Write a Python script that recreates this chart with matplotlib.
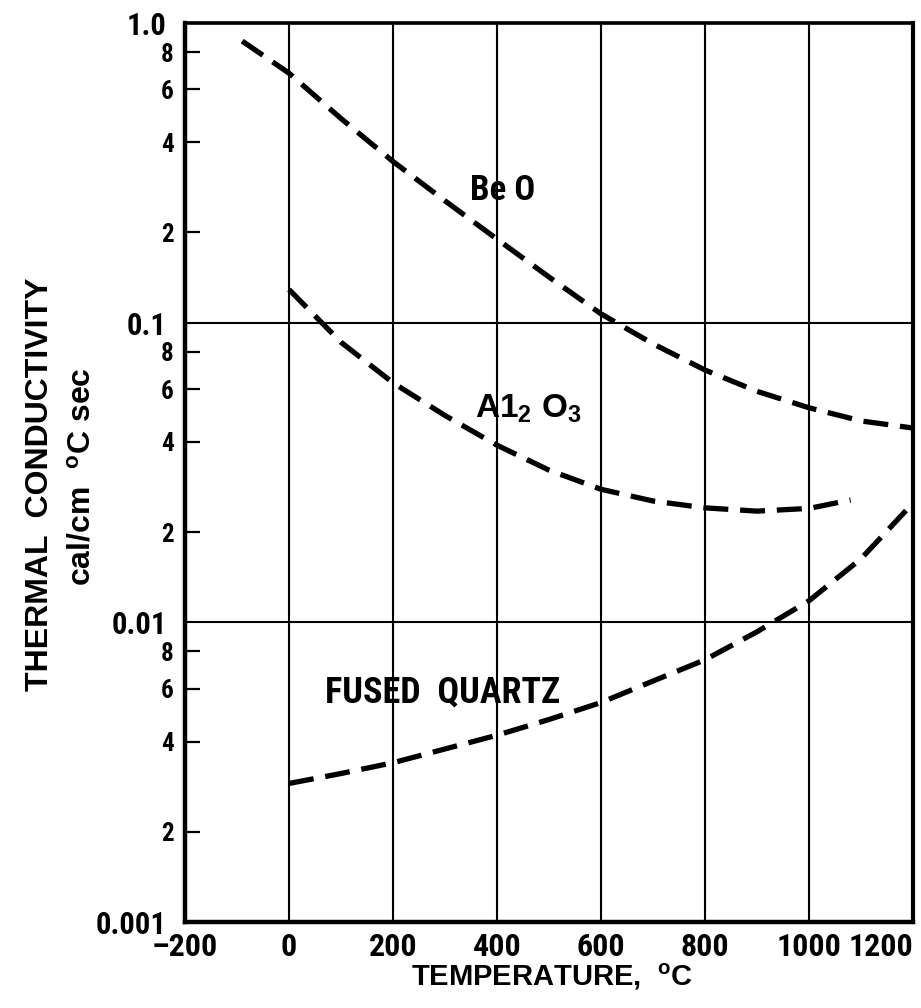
"""
Thermal conductivity of BeO, Al2O3 and fused quartz versus temperature.
"""
import logging

import matplotlib
matplotlib.use("Agg")
import matplotlib.pyplot as plt
from matplotlib.ticker import FixedLocator

logging.getLogger("matplotlib.font_manager").setLevel(logging.ERROR)

# --- data ------------------------------------------------------------------
beo_t = [-90, 0, 100, 200, 300, 400, 500, 600, 700, 800, 900, 1000, 1100, 1200]
beo_k = [0.87, 0.68, 0.48, 0.345, 0.255, 0.19, 0.142, 0.107, 0.085, 0.0695,
         0.059, 0.052, 0.047, 0.0445]

al2o3_t = [0, 100, 200, 300, 400, 500, 600, 700, 800, 900, 1000, 1080]
al2o3_k = [0.129, 0.086, 0.063, 0.049, 0.039, 0.0322, 0.0278, 0.0254,
           0.0241, 0.0235, 0.024, 0.0256]

quartz_t = [0, 100, 200, 300, 400, 500, 600, 700, 800, 900, 1000, 1100, 1200]
quartz_k = [0.0029, 0.00313, 0.0034, 0.00378, 0.0042, 0.00474, 0.0054, 0.00637,
            0.0075, 0.0093, 0.0118, 0.0163, 0.025]

x_ticks = [-200, 0, 200, 400, 600, 800, 1000, 1200]
x_labels = ["\u2013200", "0", "200", "400", "600", "800", "1000", "1200"]
y_major = [0.001, 0.01, 0.1, 1.0]
y_major_labels = ["0.001", "0.01", "0.1", "1.0"]
y_minor = [0.002, 0.004, 0.006, 0.008, 0.02, 0.04, 0.06, 0.08,
           0.2, 0.4, 0.6, 0.8]
y_minor_labels = ["2", "4", "6", "8"] * 3

NARROW = ["Roboto Condensed", "Archivo Narrow", "PT Sans Narrow",
          "Liberation Sans Narrow", "Liberation Sans", "DejaVu Sans"]
WIDE = ["Liberation Sans", "DejaVu Sans"]

plt.rcParams["mathtext.fontset"] = "custom"
plt.rcParams["mathtext.rm"] = "Liberation Sans:bold"
plt.rcParams["mathtext.it"] = "Liberation Sans:bold"
plt.rcParams["mathtext.bf"] = "Liberation Sans:bold"
plt.rcParams["lines.scale_dashes"] = False

fig = plt.figure(figsize=(9.21, 10.08), dpi=100)
ax = fig.add_axes([0.2009, 0.0853, 0.9913 - 0.2009, 0.9772 - 0.0853])

ax.set_yscale("log")
ax.set_xlim(-200, 1200)
ax.set_ylim(0.001, 1.0)

# grid lines (major only)
ax.xaxis.set_major_locator(FixedLocator(x_ticks))
ax.yaxis.set_major_locator(FixedLocator(y_major))
ax.xaxis.set_minor_locator(FixedLocator([]))
ax.grid(True, which="major", color="black", linewidth=1.5)

# curves
dash = (18, 8.5)
for t, k in [(beo_t, beo_k), (al2o3_t, al2o3_k), (quartz_t, quartz_k)]:
    ax.plot(t, k, color="black", linewidth=3.8, linestyle=(0, dash),
            dash_capstyle="butt", dash_joinstyle="round")

# spines
for side, lw in [("left", 3.2), ("bottom", 3.2), ("top", 2.6), ("right", 3.0)]:
    ax.spines[side].set_linewidth(lw)
    ax.spines[side].set_zorder(5)

# ticks and labels
ax.set_xticklabels(x_labels, fontfamily=NARROW, fontweight="bold", fontsize=23)
ax.set_yticklabels(y_major_labels, fontfamily=NARROW, fontweight="bold",
                   fontsize=22)
ax.set_yticks(y_minor, minor=True)
ax.set_yticklabels(y_minor_labels, minor=True, fontfamily=NARROW,
                   fontweight="bold", fontsize=18)
ax.tick_params(axis="x", which="major", length=0, pad=7)
ax.tick_params(axis="y", which="major", length=0, pad=13)
ax.tick_params(axis="y", which="minor", direction="in", length=11, width=1.6,
               pad=8)
ax.get_xticklabels()[-1].set_horizontalalignment("right")

# curve labels
ax.text(410, 0.277, "Be O", fontfamily=NARROW, fontweight="bold",
        fontsize=25, ha="center", va="center")
ax.text(358, 0.0482, "A1$_2$ O$_3$", fontfamily=WIDE, fontweight="bold",
        fontsize=24, ha="left", va="baseline")
ax.text(69, 0.0054, "FUSED  QUARTZ", fontfamily=NARROW, fontweight="bold",
        fontsize=26, ha="left", va="baseline")

# axis titles
fig.text(0.043, 0.52, "THERMAL  CONDUCTIVITY", rotation=90, fontfamily=WIDE,
         fontweight="bold", fontsize=23, ha="center", va="center")
fig.text(0.089, 0.527, "cal/cm  $^{\\mathrm{o}}$C sec", rotation=90,
         fontfamily=WIDE, fontweight="bold", fontsize=23, ha="center",
         va="center")
fig.text(0.599, 0.031, "TEMPERATURE,  $^{\\mathrm{o}}$C", fontfamily=WIDE,
         fontweight="bold", fontsize=21, ha="center", va="center")

fig.savefig("out.png", dpi=100)
plt.close(fig)
